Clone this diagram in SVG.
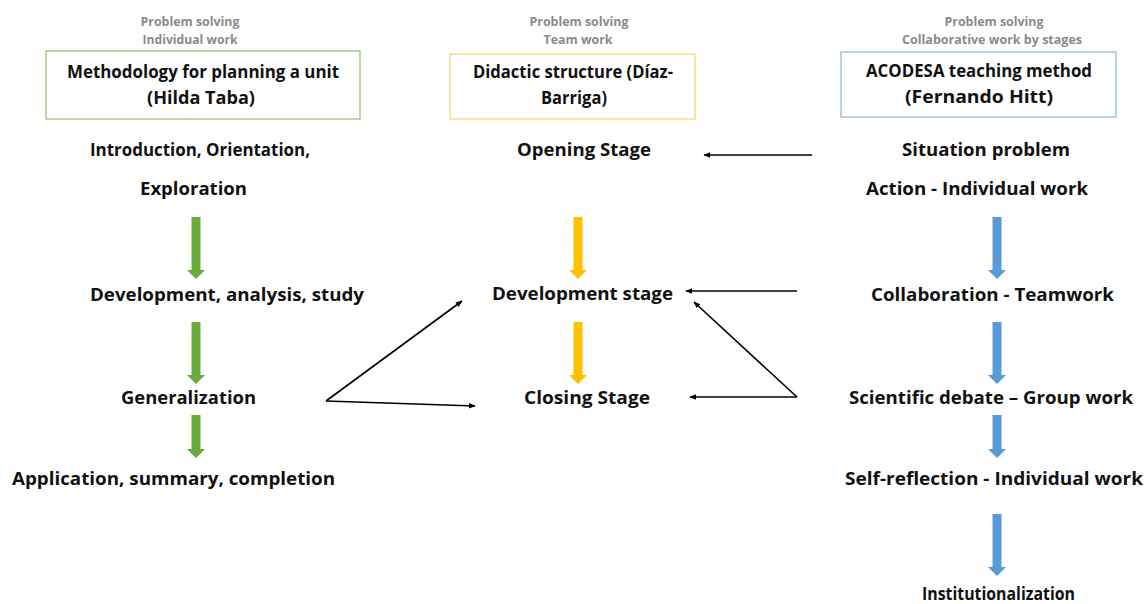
<svg xmlns="http://www.w3.org/2000/svg" width="1145" height="604" viewBox="0 0 1145 604">
<defs>
<style>
.t{font-family:"Open Sans","Liberation Sans",sans-serif;font-weight:bold;font-size:18px;fill:#111}
.h{font-family:"Open Sans","Liberation Sans",sans-serif;font-weight:bold;font-size:11.5px;fill:#8a8a8a;text-anchor:middle}
.conn{stroke:#000;stroke-width:1.6;fill:none;marker-end:url(#ah)}
</style>
<marker id="ah" viewBox="0 0 10 10" refX="9" refY="5" markerWidth="7" markerHeight="7" markerUnits="userSpaceOnUse" orient="auto">
<path d="M0,1 L10,5 L0,9 z" fill="#000"/>
</marker>
<path id="bar" d="M-4.5,0 H4.5 V53 H9 L0,62 L-9,53 H-4.5 Z"/>
<path id="sbar" d="M-4.5,0 H4.5 V34 H9 L0,43 L-9,34 H-4.5 Z"/>
</defs>
<rect width="1145" height="604" fill="#fff"/>

<g id="header1">
<text class="h" x="190" y="26" textLength="99" lengthAdjust="spacingAndGlyphs">Problem solving</text>
<text class="h" x="190" y="44" textLength="95" lengthAdjust="spacingAndGlyphs">Individual work</text>
<rect x="46" y="51" width="314" height="68" fill="#fff" stroke="#8fbc6f" stroke-width="1.2"/>
<text class="t" x="67" y="78" textLength="272" lengthAdjust="spacingAndGlyphs">Methodology for planning a unit</text>
<text class="t" x="147" y="104" textLength="108" lengthAdjust="spacingAndGlyphs">(Hilda Taba)</text>
</g>
<g id="header2">
<text class="h" x="579" y="26" textLength="99" lengthAdjust="spacingAndGlyphs">Problem solving</text>
<text class="h" x="578" y="44" textLength="69" lengthAdjust="spacingAndGlyphs">Team work</text>
<rect x="450" y="54" width="245" height="65" fill="#fff" stroke="#f5d76e" stroke-width="1.2"/>
<text class="t" x="473" y="78" textLength="200" lengthAdjust="spacingAndGlyphs">Didactic structure (Díaz-</text>
<text class="t" x="541" y="104" textLength="66" lengthAdjust="spacingAndGlyphs">Barriga)</text>
</g>
<g id="header3">
<text class="h" x="994" y="26" textLength="99" lengthAdjust="spacingAndGlyphs">Problem solving</text>
<text class="h" x="992" y="44" textLength="180" lengthAdjust="spacingAndGlyphs">Collaborative work by stages</text>
<rect x="841" y="52" width="275" height="65" fill="#fff" stroke="#8fb4d0" stroke-width="1.2"/>
<text class="t" x="866" y="77" textLength="226" lengthAdjust="spacingAndGlyphs">ACODESA teaching method</text>
<text class="t" x="905" y="103" textLength="148" lengthAdjust="spacingAndGlyphs">(Fernando Hitt)</text>
</g>

<g id="col1">
<text class="t" x="90" y="156" textLength="220" lengthAdjust="spacingAndGlyphs">Introduction, Orientation,</text>
<text class="t" x="140" y="195" textLength="107" lengthAdjust="spacingAndGlyphs">Exploration</text>
<text class="t" x="90" y="301" textLength="274" lengthAdjust="spacingAndGlyphs">Development, analysis, study</text>
<text class="t" x="121" y="404" textLength="135" lengthAdjust="spacingAndGlyphs">Generalization</text>
<text class="t" x="12" y="485" textLength="323" lengthAdjust="spacingAndGlyphs">Application, summary, completion</text>
<use href="#bar" x="196" y="217" fill="#6aab3e"/>
<use href="#bar" x="196" y="322" fill="#6aab3e"/>
<use href="#sbar" x="196" y="415" fill="#6aab3e"/>
</g>

<g id="col2">
<text class="t" x="517" y="156" textLength="134" lengthAdjust="spacingAndGlyphs">Opening Stage</text>
<text class="t" x="492" y="300" textLength="181" lengthAdjust="spacingAndGlyphs">Development stage</text>
<text class="t" x="524" y="404" textLength="126" lengthAdjust="spacingAndGlyphs">Closing Stage</text>
<use href="#bar" x="578" y="217" fill="#ffc000"/>
<use href="#bar" x="578" y="322" fill="#ffc000"/>
</g>

<g id="col3">
<text class="t" x="902" y="156" textLength="168" lengthAdjust="spacingAndGlyphs">Situation problem</text>
<text class="t" x="866" y="195" textLength="222" lengthAdjust="spacingAndGlyphs">Action - Individual work</text>
<text class="t" x="871" y="301" textLength="243" lengthAdjust="spacingAndGlyphs">Collaboration - Teamwork</text>
<text class="t" x="849" y="404" textLength="284" lengthAdjust="spacingAndGlyphs">Scientific debate – Group work</text>
<text class="t" x="845" y="485" textLength="298" lengthAdjust="spacingAndGlyphs">Self-reflection - Individual work</text>
<text class="t" x="922" y="600" textLength="153" lengthAdjust="spacingAndGlyphs">Institutionalization</text>
<use href="#bar" x="997" y="217" fill="#5b9bd5"/>
<use href="#bar" x="997" y="322" fill="#5b9bd5"/>
<use href="#sbar" x="997" y="415" fill="#5b9bd5"/>
<use href="#bar" x="997" y="514" fill="#5b9bd5"/>
</g>

<g id="connectors">
<line class="conn" x1="812" y1="155" x2="704" y2="155"/>
<line class="conn" x1="797" y1="291" x2="686" y2="291"/>
<line class="conn" x1="797" y1="397" x2="690" y2="397"/>
<line class="conn" x1="797" y1="397" x2="694" y2="302"/>
<line class="conn" x1="326" y1="401" x2="462" y2="301"/>
<line class="conn" x1="326" y1="401" x2="475" y2="406"/>
</g>
</svg>
